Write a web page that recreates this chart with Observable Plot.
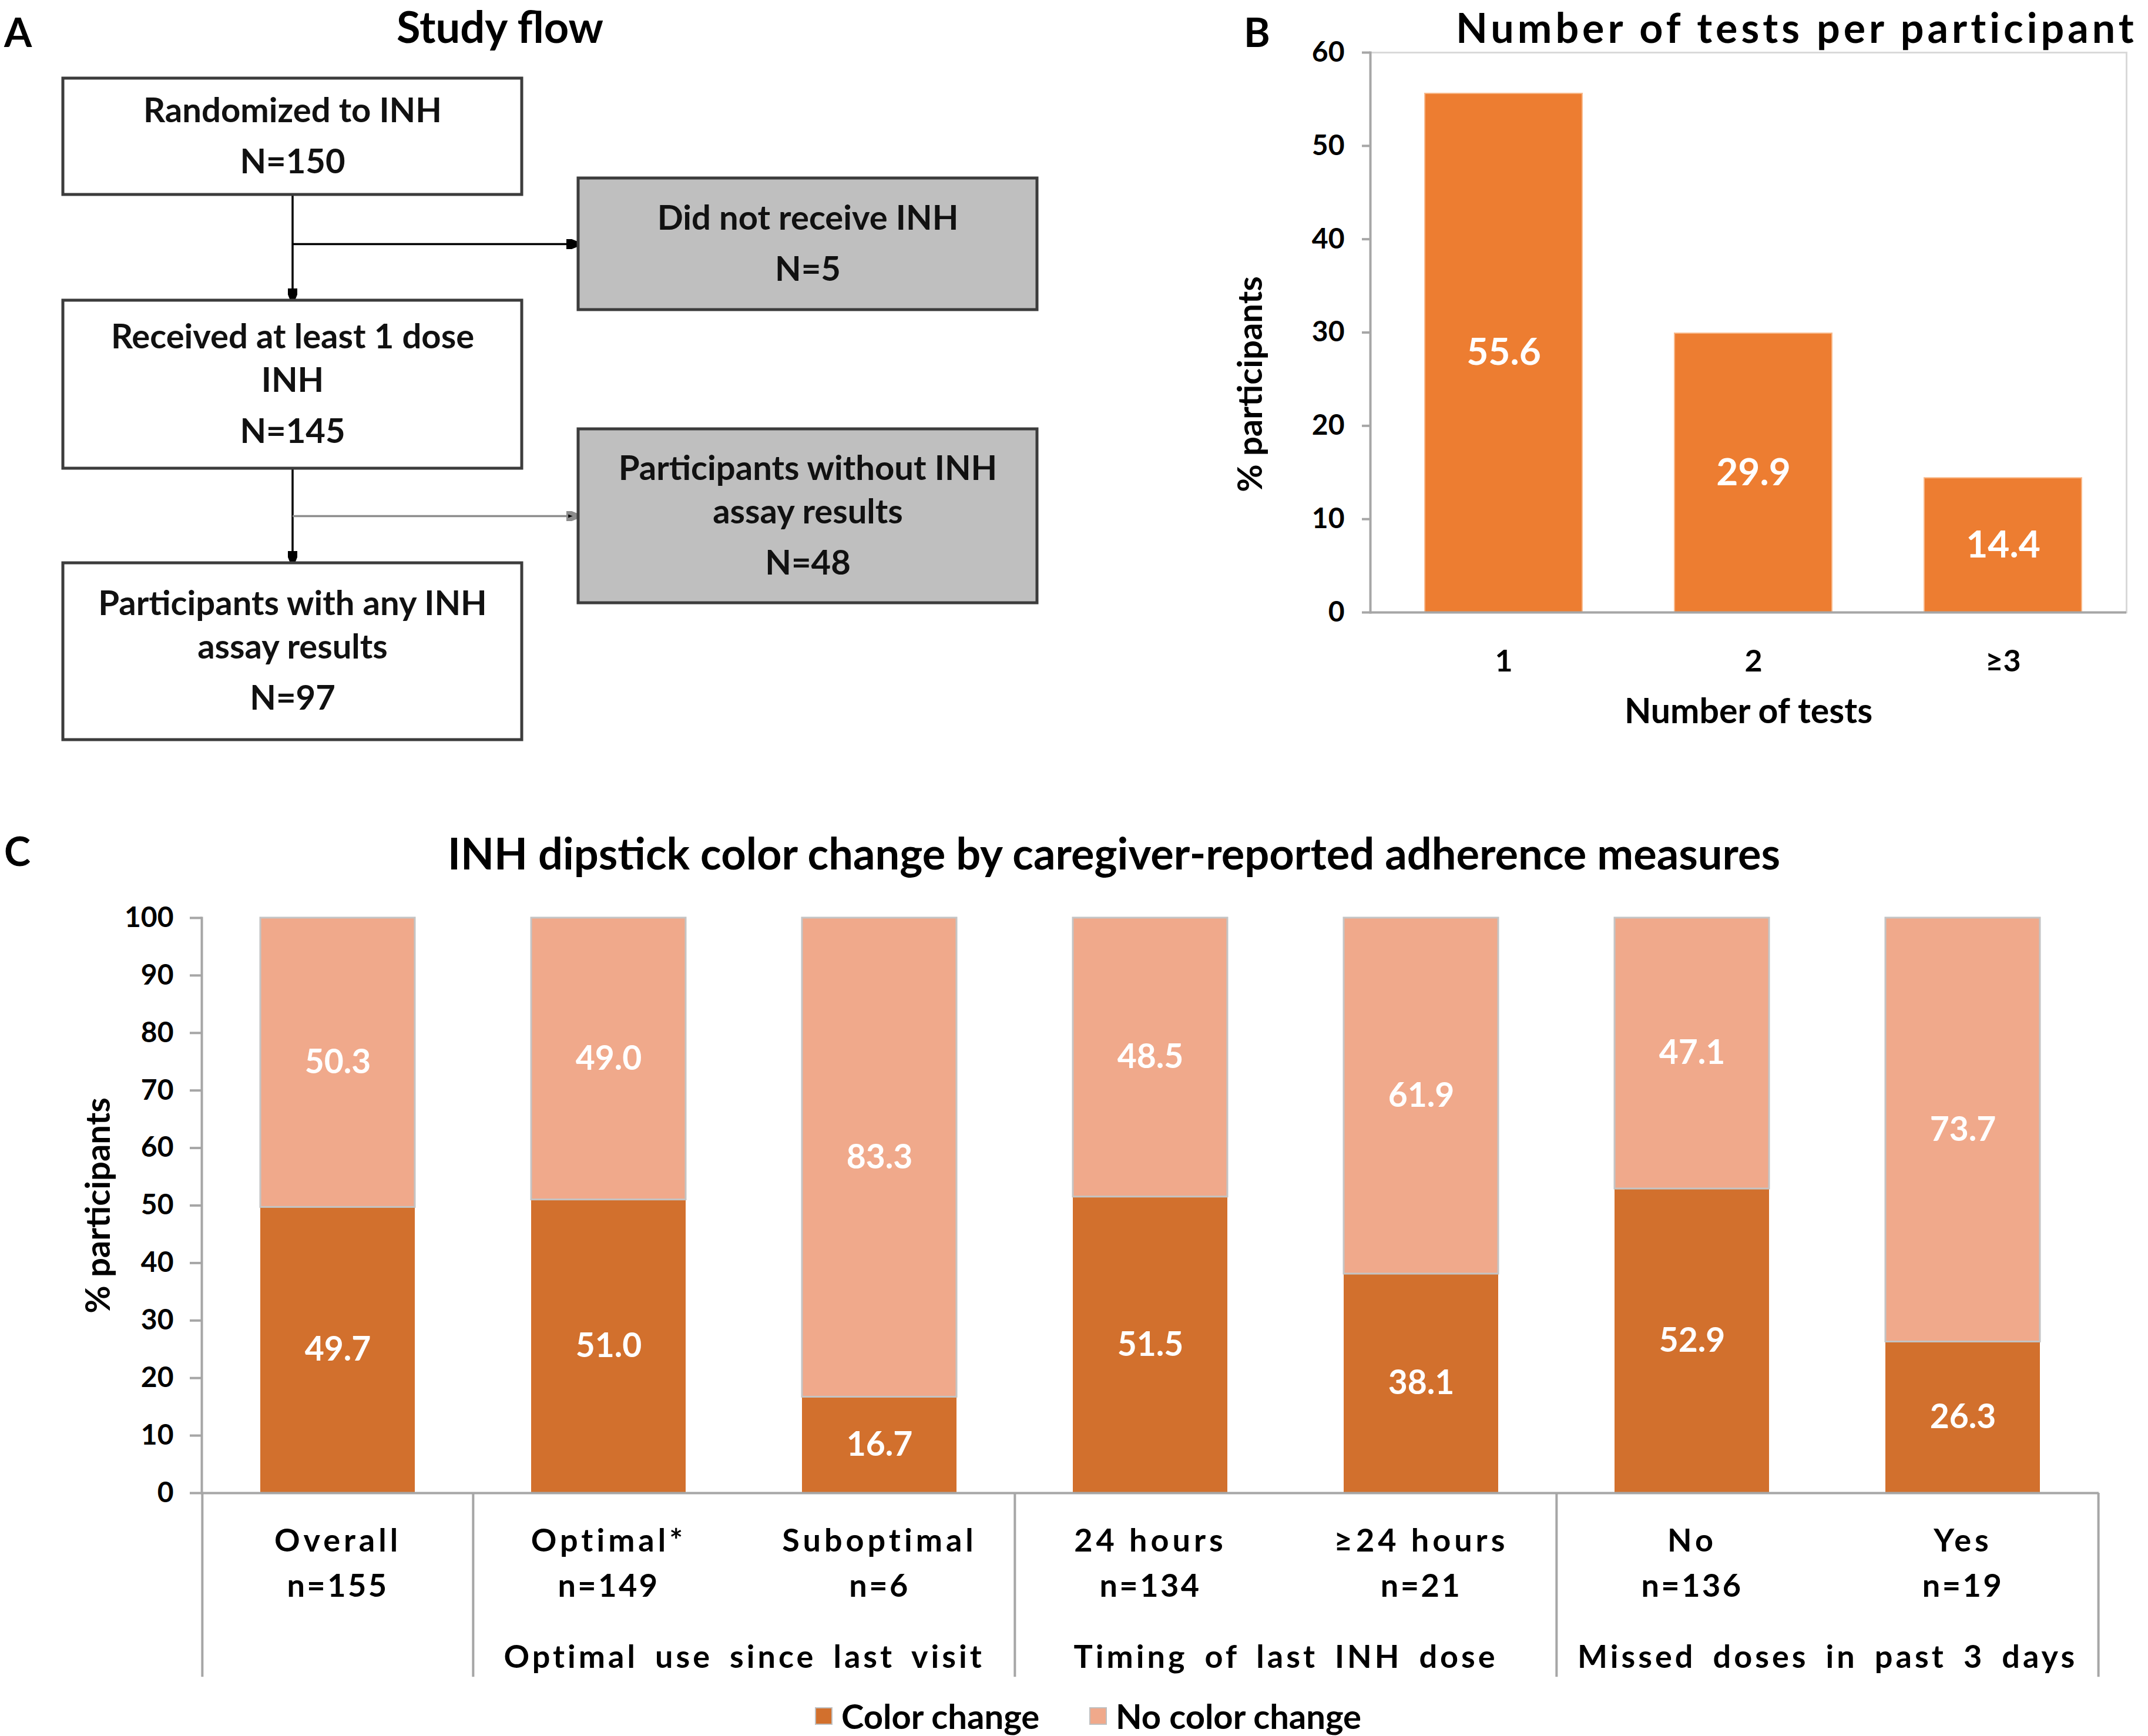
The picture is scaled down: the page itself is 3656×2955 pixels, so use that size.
<!DOCTYPE html>
<html><head><meta charset="utf-8">
<script src="https://cdn.jsdelivr.net/npm/d3@7"></script>
<script src="https://cdn.jsdelivr.net/npm/@observablehq/plot@0.6"></script>
<style>
body{margin:0;background:#fff;}
#root{position:relative;width:3656px;height:2955px;overflow:hidden;font-family:Lato,"Open Sans",sans-serif;font-weight:700;color:#000;background:#fff;}
.abs{position:absolute;white-space:nowrap;line-height:1;}
</style></head><body><div id="root"></div>
<script>
// ---------- Panel A: study flow ----------
const flowSteps = ["Randomized to INH", "Received at least 1 dose\nINH", "Participants with any INH\nassay results"];
const flowN = [150, 145, 97];
const exclusions = ["Did not receive INH", "Participants without INH\nassay results"];
const exclusionN = [5, 48];

// ---------- Panel B: tests per participant ----------
const testCounts = ["1", "2", "≥3"];
const testPct = [55.6, 29.9, 14.4];

// ---------- Panel C: dipstick colour change ----------
const categories = ["Overall", "Optimal*", "Suboptimal", "24 hours", "≥24 hours", "No", "Yes"];
const categoryN = [155, 149, 6, 134, 21, 136, 19];
const categoryGroup = ["", "Optimal use since last visit", "Optimal use since last visit", "Timing of last INH dose", "Timing of last INH dose", "Missed doses in past 3 days", "Missed doses in past 3 days"];
const series = ["Color change", "No color change"];
const colorChange = [49.7, 51.0, 16.7, 51.5, 38.1, 52.9, 26.3];
const noColorChange = [50.3, 49.0, 83.3, 48.5, 61.9, 47.1, 73.7];
const seriesColors = ["#D2702D", "#F0A98B"];

const root = document.getElementById("root");
const FONT = "Lato, 'Open Sans', sans-serif";

function place(el, left, top) {
  el.style.position = "absolute";
  el.style.left = left + "px";
  el.style.top = top + "px";
  root.appendChild(el);
}
function label(text, opts) {
  const d = document.createElement("div");
  d.className = "abs";
  d.textContent = text;
  d.style.fontSize = opts.size + "px";
  if (opts.spacing) d.style.letterSpacing = opts.spacing + "px";
  root.appendChild(d);
  const w = d.offsetWidth, h = d.offsetHeight;
  let left = opts.x;
  if (opts.anchor === "middle") left = opts.x - w / 2;
  d.style.left = left + "px";
  d.style.top = Math.max(0, opts.cy - h / 2) + "px";
  return d;
}

// Titles and panel letters
label("A", {x: 7, cy: 54, size: 68});
label("B", {x: 2117, cy: 54, size: 68});
label("C", {x: 7, cy: 1448, size: 68});
label("Study flow", {x: 851, cy: 45, anchor: "middle", size: 74});
label("Number of tests per participant", {x: 2478, cy: 46, size: 70, spacing: 6});
label("INH dipstick color change by caregiver-reported adherence measures", {x: 1896, cy: 1452, anchor: "middle", size: 74});

// ---------- Panel A drawing ----------
(function () {
  const W = 1800, H = 1300;
  const mainX = [107, 888], sideX = [984, 1765];
  const mainY = [[133, 331], [511, 797], [958, 1259]];
  const sideY = [[303, 527], [730, 1026]];
  const spine = (mainX[0] + mainX[1]) / 2;
  const boxes = [
    ...flowSteps.map((t, i) => ({text: t, n: flowN[i], x1: mainX[0], x2: mainX[1], y1: mainY[i][0], y2: mainY[i][1], fill: "#ffffff"})),
    ...exclusions.map((t, i) => ({text: t, n: exclusionN[i], x1: sideX[0], x2: sideX[1], y1: sideY[i][0], y2: sideY[i][1], fill: "#BFBFBF"}))
  ];
  const lines = [];
  for (const b of boxes) {
    const parts = b.text.split("\n");
    const span = (parts.length - 1) * 74 + 87;
    const first = (b.y1 + b.y2) / 2 - span / 2;
    const cx = (b.x1 + b.x2) / 2;
    parts.forEach((p, j) => lines.push({text: p, x: cx, y: first + j * 74}));
    lines.push({text: "N=" + b.n, x: cx, y: first + (parts.length - 1) * 74 + 87});
  }
  const down = [0, 1].map(i => ({x1: spine, y1: mainY[i][1], x2: spine, y2: mainY[i + 1][0]}));
  const side = [0, 1].map(i => ({x1: spine, y1: (sideY[i][0] + sideY[i][1]) / 2, x2: sideX[0], y2: (sideY[i][0] + sideY[i][1]) / 2}));
  function head() {
    const ns = "http://www.w3.org/2000/svg";
    const m = document.createElementNS(ns, "marker");
    m.setAttribute("viewBox", "-10 -4 10 8");
    m.setAttribute("markerWidth", 6);
    m.setAttribute("markerHeight", 4.8);
    m.setAttribute("orient", "auto");
    m.setAttribute("refX", 0);
    m.setAttribute("refY", 0);
    const p = document.createElementNS(ns, "path");
    p.setAttribute("d", "M-10,-4L0,0L-10,4Z");
    p.setAttribute("fill", "#000");
    m.appendChild(p);
    return m;
  }
  const svg = Plot.plot({
    width: W, height: H, margin: 0,
    x: {domain: [0, W], range: [0, W], axis: null},
    y: {domain: [0, H], range: [0, H], axis: null},
    style: {fontFamily: FONT, fontWeight: 700, background: "transparent", overflow: "visible"},
    marks: [
      Plot.link(down, {x1: "x1", y1: "y1", x2: "x2", y2: "y2", stroke: "#000", strokeWidth: 3.5, markerEnd: head}),
      Plot.link(side.slice(0, 1), {x1: "x1", y1: "y1", x2: "x2", y2: "y2", stroke: "#000", strokeWidth: 3.5, markerEnd: head}),
      Plot.link(side.slice(1), {x1: "x1", y1: "y1", x2: "x2", y2: "y2", stroke: "#8c8c8c", strokeWidth: 3.5, markerEnd: head}),
      Plot.rect(boxes, {x1: "x1", x2: "x2", y1: "y1", y2: "y2", fill: "fill", stroke: "#3c3c3c", strokeWidth: 5}),
      Plot.text(lines, {x: "x", y: "y", text: "text", fontSize: 58, fill: "#111", lineAnchor: "middle"})
    ]
  });
  place(svg, 0, 0);
})();

// ---------- Panel B drawing ----------
(function () {
  const data = testCounts.map((c, i) => ({count: c, pct: testPct[i]}));
  const svg = Plot.plot({
    width: 1556, height: 1280,
    marginLeft: 232, marginRight: 37, marginTop: 89, marginBottom: 238,
    x: {domain: testCounts, range: [245, 1522], paddingInner: 0.37, paddingOuter: 0.185, axis: null},
    y: {domain: [0, 60], axis: null},
    style: {fontFamily: FONT, fontWeight: 700, background: "transparent", overflow: "visible", color: "#000"},
    marks: [
      Plot.frame({stroke: "#d9d9d9", strokeWidth: 3}),
      Plot.barY(data, {x: "count", y: "pct", fill: "#ED7D31", stroke: "#F9B98A", strokeWidth: 2}),
      Plot.text(data, Plot.stackY({x: "count", y: "pct", text: d => d.pct.toFixed(1), fill: "white", fontSize: 64})),
      Plot.ruleY([0], {stroke: "#a6a6a6", strokeWidth: 4}),
      Plot.frame({anchor: "left", stroke: "#a6a6a6", strokeWidth: 4}),
      Plot.axisY({ticks: d3.range(0, 61, 10), tickSize: 14, tickPadding: 30, stroke: "#a6a6a6", strokeWidth: 4, fill: "#000", fontSize: 48, label: null}),
      Plot.text(testCounts, {x: d => d, frameAnchor: "bottom", dy: 84, text: d => d, fontSize: 52, lineAnchor: "middle"}),
      Plot.text(["Number of tests"], {frameAnchor: "bottom", dy: 170, fontSize: 59, lineAnchor: "middle"}),
      Plot.text(["% participants"], {frameAnchor: "left", textAnchor: "middle", rotate: -90, dx: -203, dy: 88, fontSize: 58, lineAnchor: "middle"})
    ]
  });
  place(svg, 2100, 0);
})();

// ---------- Panel C drawing ----------
(function () {
  const W = 3656, H = 1400, mL = 343, mR = 84, mT = 62, mB = 359;
  const step = (W - mL - mR) / categories.length;
  const sepDepth = 32; // extent of the category dividers below zero, in % units
  const data = categories.flatMap((c, i) => [
    {category: c, series: series[0], value: colorChange[i]},
    {category: c, series: series[1], value: noColorChange[i]}
  ]);
  const upper = categories.map((c, i) => ({category: c, lo: colorChange[i], hi: colorChange[i] + noColorChange[i]}));
  const bounds = categories.filter((c, i) => i === 0 || categoryGroup[i] !== categoryGroup[i - 1]);
  const groupStarts = categories.map((c, i) => ({c, g: categoryGroup[i], i}))
    .filter((d, i) => d.g && (i === 0 || categoryGroup[i - 1] !== d.g));
  const svg = Plot.plot({
    width: W, height: H, marginLeft: mL, marginRight: mR, marginTop: mT, marginBottom: mB,
    x: {domain: categories, paddingInner: 0.43, paddingOuter: 0.215, axis: null},
    y: {domain: [0, 100], axis: null},
    color: {domain: series, range: seriesColors},
    style: {fontFamily: FONT, fontWeight: 700, background: "transparent", overflow: "visible", color: "#000"},
    marks: [
      Plot.barY(data, {x: "category", y: "value", fill: "series"}),
      Plot.barY(upper, {x: "category", y1: "lo", y2: "hi", fill: "none", stroke: "#c4c4c4", strokeWidth: 3}),
      Plot.text(data, Plot.stackY({x: "category", y: "value", text: d => d.value.toFixed(1), fill: "white", fontSize: 57})),
      Plot.ruleY([0], {stroke: "#a6a6a6", strokeWidth: 4}),
      Plot.ruleX(bounds, {x: d => d, dx: -step / 2, y1: 0, y2: -sepDepth, stroke: "#a6a6a6", strokeWidth: 4}),
      Plot.ruleX(categories.slice(-1), {x: d => d, dx: step / 2, y1: 0, y2: -sepDepth, stroke: "#a6a6a6", strokeWidth: 4}),
      Plot.frame({anchor: "left", stroke: "#a6a6a6", strokeWidth: 4}),
      Plot.axisY({ticks: d3.range(0, 101, 10), tickSize: 20, tickPadding: 28, stroke: "#a6a6a6", strokeWidth: 4, fill: "#000", fontSize: 48, label: null}),
      Plot.text(categories, {x: d => d, text: d => d, frameAnchor: "bottom", dy: 82, fontSize: 54, lineAnchor: "middle", ariaDescription: "spaced"}),
      Plot.text(categories, {x: d => d, text: (d, i) => "n=" + categoryN[i], frameAnchor: "bottom", dy: 159, fontSize: 54, lineAnchor: "middle", ariaDescription: "spaced-n"}),
      Plot.text(groupStarts, {x: "c", text: "g", dx: step / 2, frameAnchor: "bottom", dy: 280, fontSize: 54, lineAnchor: "middle", ariaDescription: "group"}),
      Plot.text(["% participants"], {frameAnchor: "left", textAnchor: "middle", rotate: -90, dx: -175, fontSize: 58, lineAnchor: "middle"})
    ]
  });
  const spacing = {"spaced": ["6px", "0px"], "spaced-n": ["3.5px", "0px"], "group": ["5px", "11px"]};
  for (const [key, [ls, ws]] of Object.entries(spacing)) {
    svg.querySelectorAll(`[aria-description="${key}"] text, text[aria-description="${key}"]`).forEach(t => {
      t.style.letterSpacing = ls; t.style.wordSpacing = ws;
    });
  }
  place(svg, 0, 1500);

  // legend
  const lefts = [1387, 1854];
  series.forEach((s, i) => {
    const sw = document.createElement("div");
    sw.style.width = "26px"; sw.style.height = "26px";
    sw.style.background = seriesColors[i];
    sw.style.border = "2px solid #bfbfbf";
    place(sw, lefts[i], 2921 - 15);
    label(s, {x: lefts[i] + 45, cy: 2921, size: 58});
  });
})();
</script></body></html>
